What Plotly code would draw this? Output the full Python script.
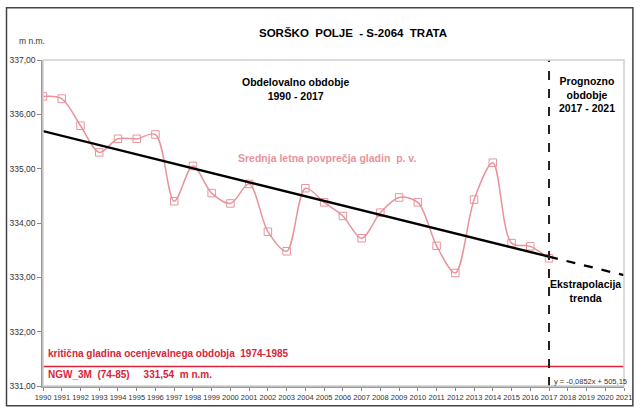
import plotly.graph_objects as go

years = list(range(1990, 2018))
levels = [336.33, 336.29, 335.79, 335.30, 335.55, 335.55, 335.63, 334.40, 335.05, 334.55,
          334.36, 334.72, 333.84, 333.48, 334.64, 334.38, 334.13, 333.72, 334.19, 334.47,
          334.38, 333.58, 333.08, 334.43, 335.11, 333.63, 333.57, 333.35]

trend_years = [1990, 2017]
trend_vals = [335.69, 333.38]
extrap_years = [2017, 2021]
extrap_vals = [333.38, 333.04]

critical_level = 331.36
divider_year = 2017
x_ticks = list(range(1990, 2022))

PINK = "#E8939A"
RED = "#D9243A"

L, R, T, B = 43, 10, 60, 21
W, H = 642, 412
pw, ph = W - L - R, H - T - B


def px(x):
    return (x - L) / pw


def py(y):
    return (H - B - y) / ph


def note(text, x, y, size=10.5, color="black", xanchor="center"):
    return dict(text=text, x=px(x), y=py(y), xref="paper", yref="paper", xanchor=xanchor,
                yanchor="middle", showarrow=False, font=dict(size=size, color=color))


fig = go.Figure()

fig.add_trace(go.Scatter(x=years, y=levels, mode="lines+markers",
                         line=dict(color=PINK, width=1.5, shape="spline", smoothing=0.9),
                         marker=dict(symbol="square-open", size=7.5, color=PINK, line=dict(width=1)),
                         hoverinfo="x+y"))
fig.add_trace(go.Scatter(x=trend_years, y=trend_vals, mode="lines",
                         line=dict(color="black", width=2.3)))
fig.add_trace(go.Scatter(x=extrap_years, y=extrap_vals, mode="lines",
                         line=dict(color="black", width=2.3, dash="dash")))
fig.add_trace(go.Scatter(x=[1990, 2021], y=[critical_level, critical_level], mode="lines",
                         line=dict(color=RED, width=1.5)))

shapes = [
    dict(type="line", xref="x", yref="paper", x0=divider_year, x1=divider_year, y0=0, y1=1,
         line=dict(color="#222222", width=2, dash="dash")),
    dict(type="rect", xref="paper", yref="paper", x0=0, x1=1, y0=0, y1=1,
         line=dict(color="#cfcfcf", width=1.5)),
    dict(type="rect", xref="paper", yref="paper", x0=px(6), x1=px(641), y0=py(411), y1=py(7),
         line=dict(color="#444444", width=1.5)),
]

annotations = [
    note("<b>SORŠKO  POLJE  - S-2064  TRATA</b>", 357, 33, size=11.5),
    note("m n.m.", 32, 41, size=8.5, color="#333333"),
    note("<b>Obdelovalno obdobje<br>1990 - 2017</b>", 299, 89),
    note("<b>Prognozno<br>obdobje<br>2017 - 2021</b>", 594, 95),
    note("<b>Srednja letna povprečja gladin  p. v.</b>", 331, 160, color=PINK),
    note("<b>Ekstrapolacija<br>trenda</b>", 593, 295),
    note("y = -0,0852x + 505,15", 559, 386, size=7.5, color="#333333", xanchor="left"),
    note("<b>kritična gladina ocenjevalnega obdobja  1974-1985</b>", 46, 358, size=10, color=RED,
         xanchor="left"),
    note("<b>NGW_3M  (74-85)     331,54  m n.m.</b>", 46, 379, size=10, color=RED, xanchor="left"),
]

fig.update_layout(
    width=W, height=H, margin=dict(l=L, r=R, t=T, b=B),
    paper_bgcolor="white", plot_bgcolor="white",
    showlegend=False, separators=", ",
    font=dict(family="Arial, Liberation Sans, sans-serif", color="#333333"),
    shapes=shapes, annotations=annotations,
    xaxis=dict(range=[1990, 2021], tickvals=x_ticks, ticktext=[str(y) for y in x_ticks],
               tickangle=0, ticks="outside", ticklen=3, tickcolor="#888888",
               showline=True, linecolor="#999999", linewidth=1.5, showgrid=False, zeroline=False,
               tickfont=dict(size=7.5, color="#333333")),
    yaxis=dict(range=[331, 337], dtick=1, tickformat=".2f", ticks="outside", ticklen=4,
               tickcolor="#888888", showline=True, linecolor="#999999", linewidth=1.5,
               showgrid=False, zeroline=False, tickfont=dict(size=8.5, color="#333333")),
)

fig.write_html("out.html", config={"displayModeBar": False},
               post_script="document.body.style.margin='0';document.body.style.overflow='hidden';")
